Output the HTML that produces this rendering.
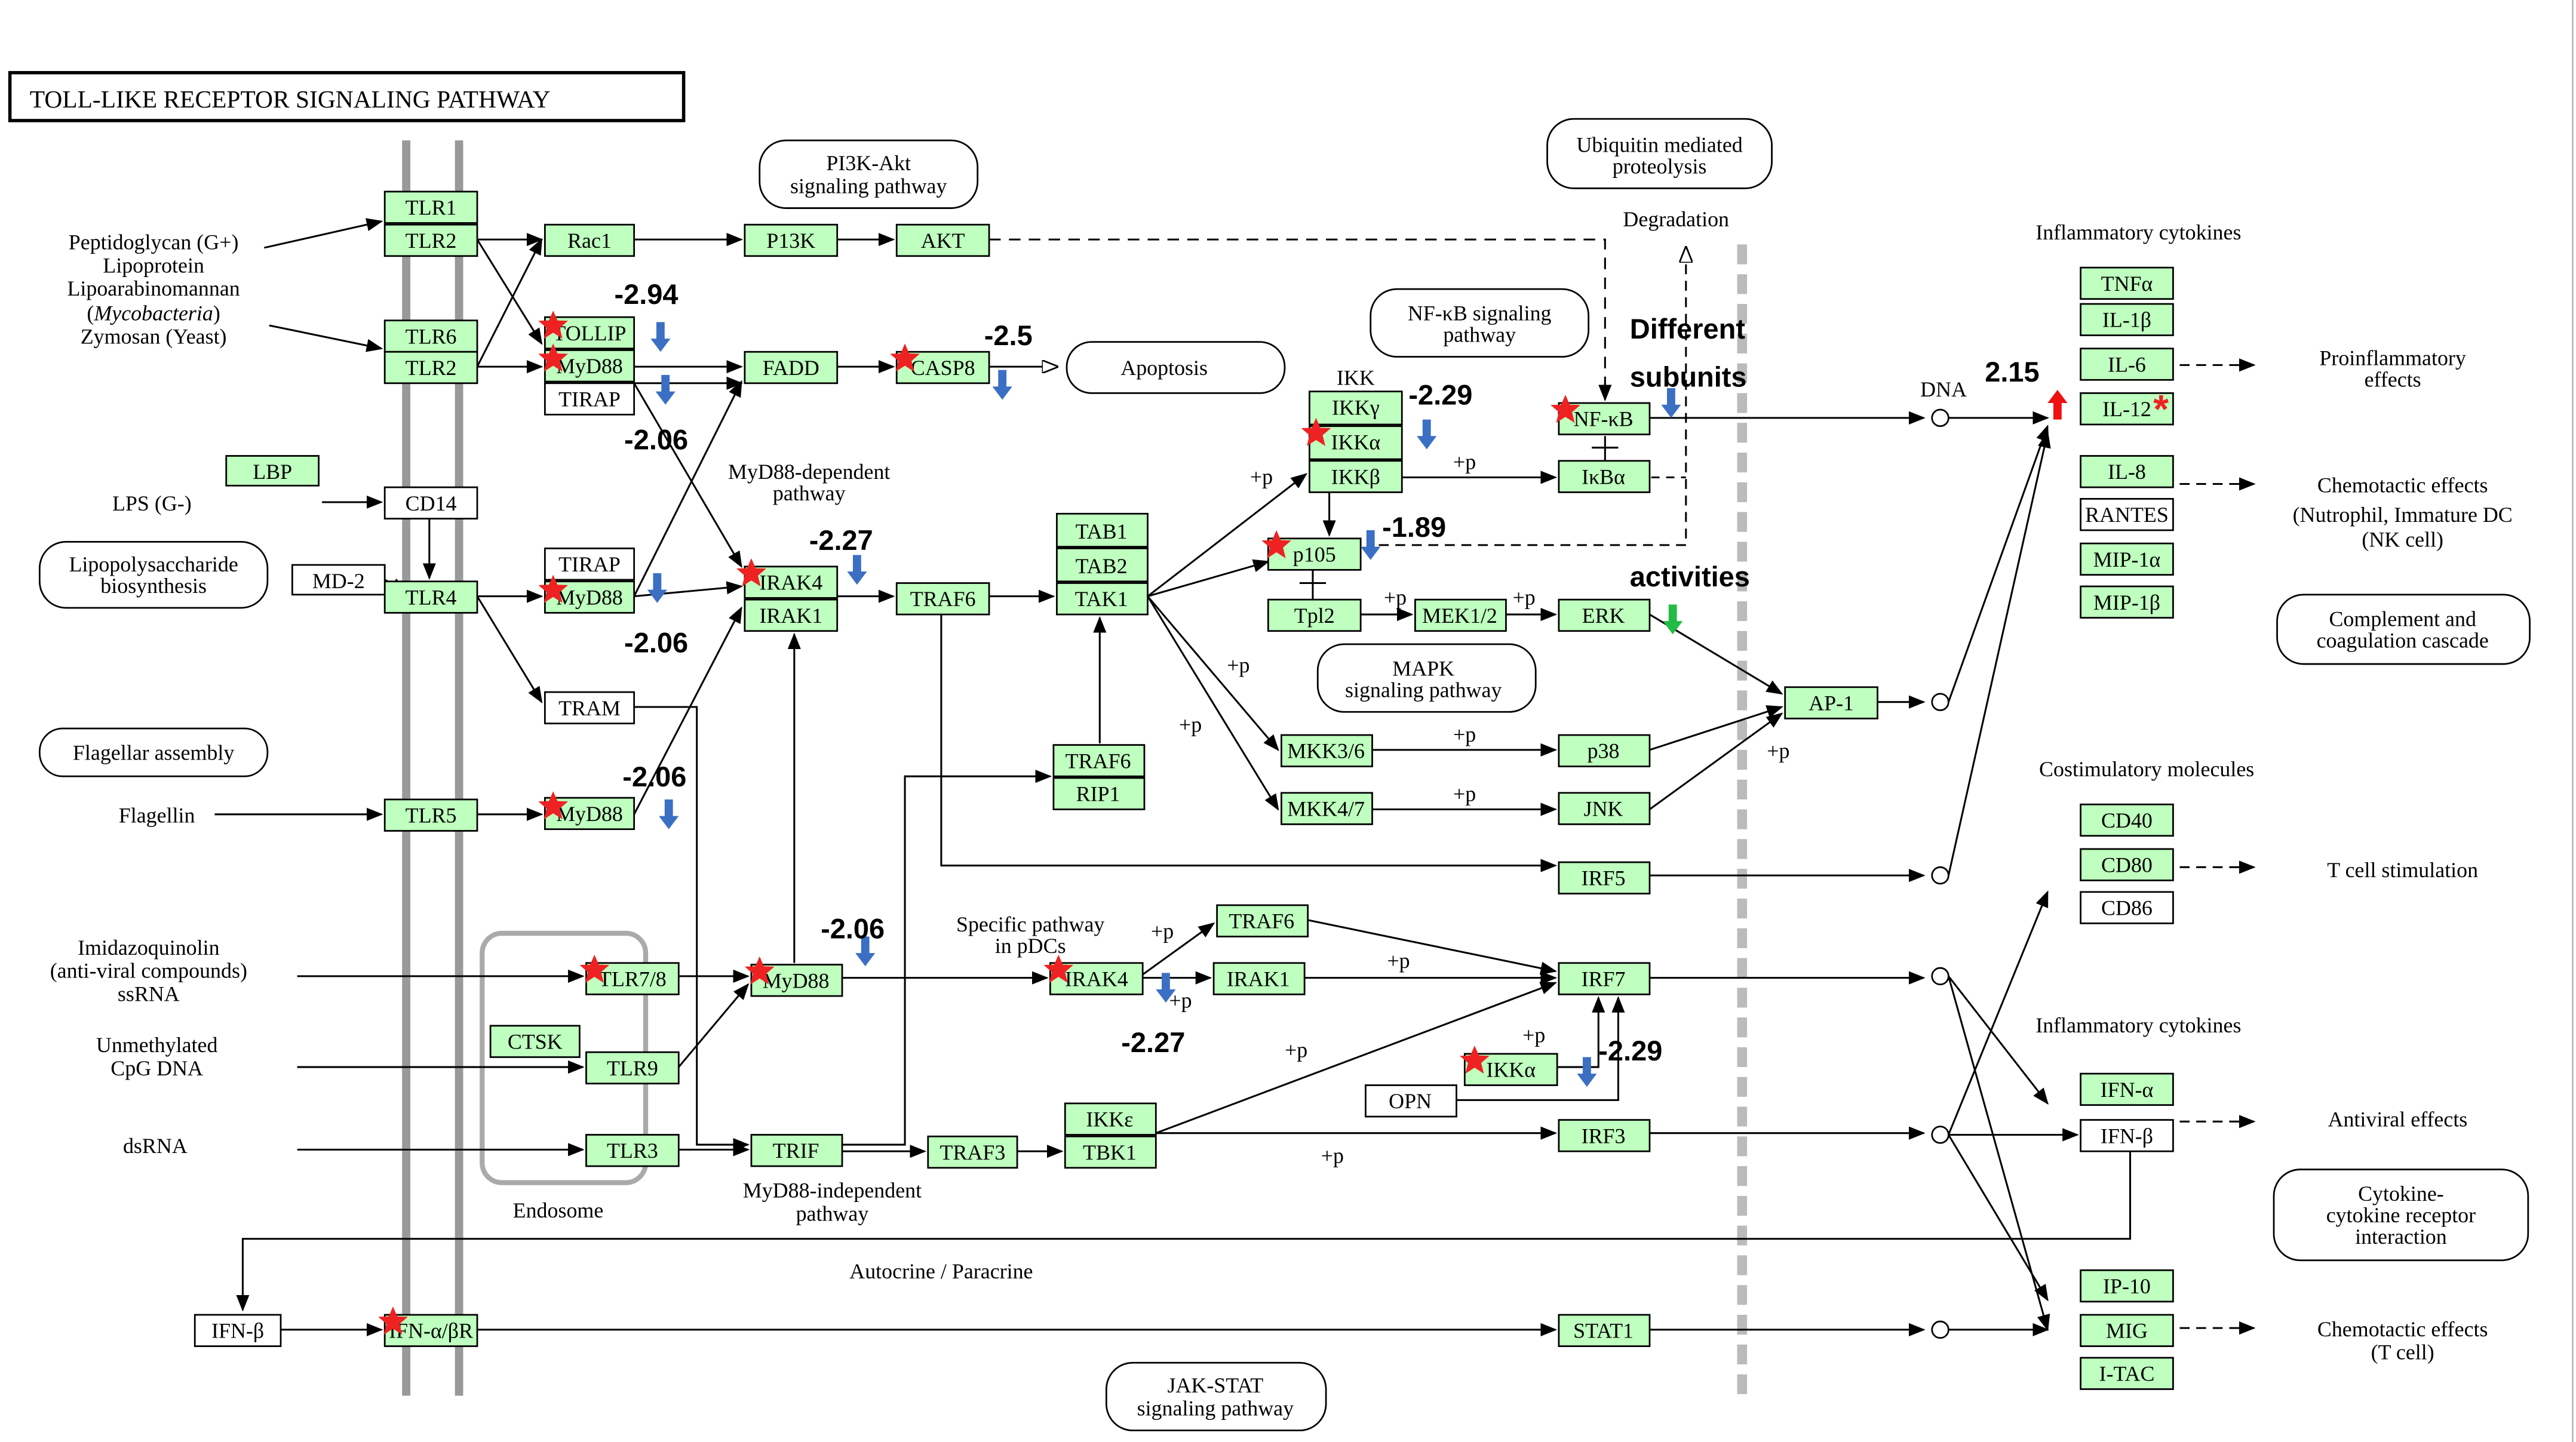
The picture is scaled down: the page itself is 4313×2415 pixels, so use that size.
<!DOCTYPE html>
<html><head><meta charset="utf-8"><style>
html,body{margin:0;padding:0;background:#fff;}
svg{display:block;}
.g{fill:#bfffbf;stroke:#000;stroke-width:1}
.w{fill:#fff;stroke:#000;stroke-width:1}
text{font-family:"Liberation Serif",serif;font-size:13px;fill:#000}
.c{text-anchor:middle}
.n{font-family:"Liberation Sans",sans-serif;font-weight:bold;font-size:17px}
.e{stroke:#000;stroke-width:1.1;fill:none}
.ea{stroke:#000;stroke-width:1.1;fill:none;marker-end:url(#ah)}
.rr{fill:#fff;stroke:#000;stroke-width:1}
</style></head><body>
<svg width="4313" height="2415" viewBox="0 0 1560 873" preserveAspectRatio="none" xmlns="http://www.w3.org/2000/svg">
<defs>
<marker id="ah" markerWidth="10" markerHeight="8" refX="9" refY="4" orient="auto" markerUnits="userSpaceOnUse"><path d="M0,0 L10,4 L0,8 z" fill="#000"/></marker>
<marker id="oh" markerWidth="10" markerHeight="8" refX="9" refY="4" orient="auto" markerUnits="userSpaceOnUse"><path d="M0,0 L10,4 L0,8 z" fill="#fff" stroke="#000"/></marker>
<g id="star"><path d="M0,-9 L2.6,-3 L9,-2.8 L4,1.5 L5.6,8 L0,4.4 L-5.6,8 L-4,1.5 L-9,-2.8 L-2.6,-3 z" fill="#ee2222"/></g>
<g id="bd"><rect x="-2.5" y="-10" width="5" height="11" fill="#3b6fc4"/><path d="M-6,0 L6,0 L0,8 z" fill="#3b6fc4"/></g>
</defs>
<rect width="1560" height="873" fill="#fff"/>
<line x1="1558" y1="0" x2="1558" y2="873" stroke="#bbb" stroke-width="1"/>
<!-- membranes -->
<line x1="246" y1="85" x2="246" y2="845" stroke="#999" stroke-width="5"/>
<line x1="278" y1="85" x2="278" y2="845" stroke="#999" stroke-width="5"/>
<line x1="1055" y1="148" x2="1055" y2="845" stroke="#bbb" stroke-width="6" stroke-dasharray="12,6"/>
<!-- title -->
<rect x="6" y="44" width="408" height="29" fill="#fff" stroke="#000" stroke-width="2"/>
<text x="18" y="65" style="font-size:15px">TOLL-LIKE RECEPTOR SIGNALING PATHWAY</text>
<!-- rounded labels -->
<rect class="rr" x="460" y="85" width="132" height="41" rx="16"/><text class="c" x="526" y="103">PI3K-Akt</text><text class="c" x="526" y="117">signaling pathway</text>
<rect class="rr" x="937" y="72" width="136" height="42" rx="16"/><text class="c" x="1005" y="92">Ubiquitin mediated</text><text class="c" x="1005" y="105">proteolysis</text>
<rect class="rr" x="830" y="175" width="132" height="41" rx="16"/><text class="c" x="896" y="194">NF-κB signaling</text><text class="c" x="896" y="207">pathway</text>
<rect class="rr" x="646" y="207" width="132" height="31" rx="15"/><text class="c" x="705" y="227">Apoptosis</text>
<rect class="rr" x="798" y="390" width="132" height="41" rx="16"/><text class="c" x="862" y="409">MAPK</text><text class="c" x="862" y="422">signaling pathway</text>
<rect class="rr" x="24" y="328" width="138" height="40" rx="16"/><text class="c" x="93" y="346">Lipopolysaccharide</text><text class="c" x="93" y="359">biosynthesis</text>
<rect class="rr" x="24" y="441" width="138" height="29" rx="14"/><text class="c" x="93" y="460">Flagellar assembly</text>
<rect class="rr" x="1379" y="360" width="153" height="42" rx="16"/><text class="c" x="1455" y="379">Complement and</text><text class="c" x="1455" y="392">coagulation cascade</text>
<rect class="rr" x="1377" y="708" width="154" height="55" rx="16"/><text class="c" x="1454" y="727">Cytokine-</text><text class="c" x="1454" y="740">cytokine receptor</text><text class="c" x="1454" y="753">interaction</text>
<rect class="rr" x="670" y="825" width="133" height="41" rx="16"/><text class="c" x="736" y="843">JAK-STAT</text><text class="c" x="736" y="857">signaling pathway</text>
<rect x="292" y="565" width="99" height="151" rx="12" fill="none" stroke="#aaa" stroke-width="3"/>
<text class="c" x="338" y="737">Endosome</text>
<!-- edges -->
<g>
<path class="ea" d="M160,150 L231,134"/>
<path class="ea" d="M163,197 L231,211"/>
<path class="ea" d="M195,304 L231,304"/>
<path class="ea" d="M130,493 L231,493"/>
<path class="ea" d="M260,314 L260,350"/>
<path class="ea" d="M233,351 L246,358"/>
<path class="ea" d="M289,145 L328,145"/>
<path class="ea" d="M289,145 L328,208"/>
<path class="ea" d="M289,222 L328,145"/>
<path class="ea" d="M289,222 L328,222"/>
<path class="ea" d="M384,145 L449,145"/>
<path class="ea" d="M507,145 L541,145"/>
<path class="e" d="M599,145 L972,145 L972,240" stroke-dasharray="7,5"/>
<path class="ea" d="M972,232 L972,242"/>
<path class="ea" d="M384,222 L449,222"/>
<path class="ea" d="M507,222 L541,222"/>
<path class="e" d="M599,222 L640,222" marker-end="url(#oh)"/>
<path class="ea" d="M384,232 L449,343"/>
<path class="ea" d="M384,232 L449,232"/>
<path class="ea" d="M289,361 L328,361"/>
<path class="ea" d="M289,361 L328,425"/>
<path class="ea" d="M384,361 L449,231"/>
<path class="ea" d="M384,361 L449,355"/>
<path class="ea" d="M384,493 L449,368"/>
<path class="ea" d="M289,493 L328,493"/>
<path class="ea" d="M507,361 L541,361"/>
<path class="ea" d="M599,361 L638,361"/>
<path class="ea" d="M666,450 L666,374"/>
<path class="ea" d="M481,583 L481,384"/>
<path class="ea" d="M695,361 L791,287"/>
<path class="ea" d="M695,361 L774,454"/>
<path class="ea" d="M695,361 L774,490"/>
<path class="ea" d="M695,361 L768,340"/>
<path class="ea" d="M849,289 L942,289"/>
<path class="ea" d="M805,298 L805,324"/>
<path class="e" d="M1021,160 L1021,330 L830,330" stroke-dasharray="6,4"/>
<path class="e" d="M1021,155 L1021,150" marker-end="url(#oh)"/>
<path class="e" d="M1000,289 L1021,289" stroke-dasharray="5,4"/>
<line x1="972" y1="264" x2="972" y2="279" class="e"/><line x1="964" y1="271" x2="980" y2="271" class="e"/>
<line x1="795" y1="345" x2="795" y2="363" class="e"/><line x1="787" y1="353" x2="803" y2="353" class="e"/>
<path class="ea" d="M824,372 L855,372"/>
<path class="ea" d="M912,372 L942,372"/>
<path class="ea" d="M999,253 L1165,253"/>
<circle cx="1175" cy="253" r="5" fill="#fff" stroke="#000"/>
<path class="ea" d="M1180,253 L1240,253"/>
<path class="ea" d="M999,372 L1079,420"/>
<path class="ea" d="M999,454 L1079,428"/>
<path class="ea" d="M999,490 L1079,432"/>
<path class="ea" d="M831,454 L942,454"/>
<path class="ea" d="M831,490 L942,490"/>
<path class="ea" d="M1137,425 L1165,425"/>
<circle cx="1175" cy="425" r="5" fill="#fff" stroke="#000"/>
<path class="ea" d="M1180,425 L1240,258"/>
<path class="ea" d="M570,372 L570,524 L942,524"/>
<path class="ea" d="M999,530 L1165,530"/>
<circle cx="1175" cy="530" r="5" fill="#fff" stroke="#000"/>
<path class="ea" d="M1180,530 L1240,262"/>
<path class="ea" d="M384,428 L422,428 L422,693 L453,693"/>
<path class="ea" d="M510,693 L548,693 L548,470 L636,470"/>
<path class="ea" d="M510,697 L560,697"/>
<path class="ea" d="M616,697 L643,697"/>
<path class="ea" d="M700,686 L942,595"/>
<path class="ea" d="M700,686 L942,686"/>
<path class="ea" d="M999,686 L1165,686"/>
<circle cx="1175" cy="687" r="5" fill="#fff" stroke="#000"/>
<path class="ea" d="M180,591 L353,591"/>
<path class="ea" d="M180,646 L353,646"/>
<path class="ea" d="M180,696 L353,696"/>
<path class="ea" d="M411,591 L453,591"/>
<path class="ea" d="M411,646 L453,596"/>
<path class="ea" d="M411,696 L453,696"/>
<path class="ea" d="M510,592 L634,592"/>
<path class="ea" d="M692,592 L733,592"/>
<path class="ea" d="M692,590 L735,559"/>
<path class="ea" d="M790,592 L942,592"/>
<path class="ea" d="M792,557 L942,588"/>
<path class="ea" d="M999,592 L1165,592"/>
<circle cx="1175" cy="591" r="5" fill="#fff" stroke="#000"/>
<path class="ea" d="M943,646 L968,646 L968,604"/>
<path class="ea" d="M882,666 L980,666 L980,604"/>
<path class="ea" d="M289,805 L942,805"/>
<path class="ea" d="M999,805 L1165,805"/>
<circle cx="1175" cy="805" r="5" fill="#fff" stroke="#000"/>
<path class="ea" d="M170,805 L231,805"/>
<path class="ea" d="M1290,697 L1290,750 L147,750 L147,793"/>
<path class="ea" d="M1180,687 L1240,540"/>
<path class="ea" d="M1180,591 L1240,668"/>
<path class="ea" d="M1180,687 L1258,687"/>
<path class="ea" d="M1180,687 L1240,787"/>
<path class="ea" d="M1180,805 L1240,805"/>
<path class="ea" d="M1180,591 L1240,805"/>
<path class="e" d="M1320,221 L1365,221" stroke-dasharray="6,4" marker-end="url(#ah)"/>
<path class="e" d="M1320,293 L1365,293" stroke-dasharray="6,4" marker-end="url(#ah)"/>
<path class="e" d="M1320,525 L1365,525" stroke-dasharray="6,4" marker-end="url(#ah)"/>
<path class="e" d="M1320,679 L1365,679" stroke-dasharray="6,4" marker-end="url(#ah)"/>
<path class="e" d="M1320,804 L1365,804" stroke-dasharray="6,4" marker-end="url(#ah)"/>
</g>
<!-- nodes -->
<g>
<rect class="g" x="233" y="116" width="56" height="19"/><text class="c" x="261" y="130">TLR1</text>
<rect class="g" x="233" y="136" width="56" height="19"/><text class="c" x="261" y="150">TLR2</text>
<rect class="g" x="233" y="194" width="56" height="19"/><text class="c" x="261" y="208">TLR6</text>
<rect class="g" x="233" y="213" width="56" height="19"/><text class="c" x="261" y="227">TLR2</text>
<rect class="w" x="233" y="295" width="56" height="19"/><text class="c" x="261" y="309">CD14</text>
<rect class="g" x="233" y="352" width="56" height="19"/><text class="c" x="261" y="366">TLR4</text>
<rect class="g" x="233" y="484" width="56" height="19"/><text class="c" x="261" y="498">TLR5</text>
<rect class="g" x="233" y="796" width="56" height="19"/><text class="c" x="261" y="810">IFN-α/βR</text>
<rect class="g" x="137" y="276" width="56" height="18"/><text class="c" x="165" y="290">LBP</text>
<rect class="w" x="177" y="342" width="56" height="18"/><text class="c" x="205" y="356">MD-2</text>
<rect class="w" x="118" y="796" width="52" height="19"/><text class="c" x="144" y="810">IFN-β</text>
<rect class="g" x="330" y="136" width="54" height="19"/><text class="c" x="357" y="150">Rac1</text>
<rect class="g" x="451" y="136" width="56" height="19"/><text class="c" x="479" y="150">P13K</text>
<rect class="g" x="543" y="136" width="56" height="19"/><text class="c" x="571" y="150">AKT</text>
<rect class="g" x="330" y="192" width="54" height="19"/><text class="c" x="357" y="206">TOLLIP</text>
<rect class="g" x="330" y="212" width="54" height="19"/><text class="c" x="357" y="226">MyD88</text>
<rect class="w" x="330" y="232" width="54" height="19"/><text class="c" x="357" y="246">TIRAP</text>
<rect class="g" x="451" y="213" width="56" height="19"/><text class="c" x="479" y="227">FADD</text>
<rect class="g" x="543" y="213" width="56" height="19"/><text class="c" x="571" y="227">CASP8</text>
<rect class="w" x="330" y="332" width="54" height="19"/><text class="c" x="357" y="346">TIRAP</text>
<rect class="g" x="330" y="352" width="54" height="19"/><text class="c" x="357" y="366">MyD88</text>
<rect class="g" x="451" y="343" width="56" height="19"/><text class="c" x="479" y="357">IRAK4</text>
<rect class="g" x="451" y="363" width="56" height="19"/><text class="c" x="479" y="377">IRAK1</text>
<rect class="w" x="330" y="419" width="54" height="19"/><text class="c" x="357" y="433">TRAM</text>
<rect class="g" x="330" y="483" width="54" height="19"/><text class="c" x="357" y="497">MyD88</text>
<rect class="g" x="543" y="353" width="56" height="19"/><text class="c" x="571" y="367">TRAF6</text>
<rect class="g" x="640" y="311" width="55" height="20"/><text class="c" x="667" y="326">TAB1</text>
<rect class="g" x="640" y="332" width="55" height="20"/><text class="c" x="667" y="347">TAB2</text>
<rect class="g" x="640" y="353" width="55" height="19"/><text class="c" x="667" y="367">TAK1</text>
<rect class="g" x="638" y="451" width="55" height="19"/><text class="c" x="665" y="465">TRAF6</text>
<rect class="g" x="638" y="471" width="55" height="19"/><text class="c" x="665" y="485">RIP1</text>
<rect class="g" x="793" y="237" width="56" height="20"/><text class="c" x="821" y="251">IKKγ</text>
<rect class="g" x="793" y="258" width="56" height="20"/><text class="c" x="821" y="272">IKKα</text>
<rect class="g" x="793" y="279" width="56" height="19"/><text class="c" x="821" y="293">IKKβ</text>
<text class="c" x="821" y="233">IKK</text>
<rect class="g" x="944" y="244" width="55" height="19"/><text class="c" x="971" y="258">NF-κB</text>
<rect class="g" x="944" y="279" width="55" height="19"/><text class="c" x="971" y="293">IκBα</text>
<rect class="g" x="768" y="326" width="56" height="19"/><text class="c" x="796" y="340">p105</text>
<rect class="g" x="768" y="363" width="56" height="19"/><text class="c" x="796" y="377">Tpl2</text>
<rect class="g" x="857" y="363" width="55" height="19"/><text class="c" x="884" y="377">MEK1/2</text>
<rect class="g" x="944" y="363" width="55" height="19"/><text class="c" x="971" y="377">ERK</text>
<rect class="g" x="776" y="445" width="55" height="19"/><text class="c" x="803" y="459">MKK3/6</text>
<rect class="g" x="776" y="480" width="55" height="19"/><text class="c" x="803" y="494">MKK4/7</text>
<rect class="g" x="944" y="445" width="55" height="19"/><text class="c" x="971" y="459">p38</text>
<rect class="g" x="944" y="480" width="55" height="19"/><text class="c" x="971" y="494">JNK</text>
<rect class="g" x="1081" y="416" width="56" height="19"/><text class="c" x="1109" y="430">AP-1</text>
<rect class="g" x="944" y="522" width="55" height="19"/><text class="c" x="971" y="536">IRF5</text>
<rect class="g" x="737" y="548" width="55" height="19"/><text class="c" x="764" y="562">TRAF6</text>
<rect class="g" x="944" y="583" width="55" height="19"/><text class="c" x="971" y="597">IRF7</text>
<rect class="g" x="735" y="583" width="55" height="19"/><text class="c" x="762" y="597">IRAK1</text>
<rect class="g" x="636" y="583" width="56" height="19"/><text class="c" x="664" y="597">IRAK4</text>
<rect class="g" x="455" y="584" width="55" height="19"/><text class="c" x="482" y="598">MyD88</text>
<rect class="g" x="355" y="583" width="56" height="19"/><text class="c" x="383" y="597">TLR7/8</text>
<rect class="g" x="297" y="621" width="54" height="19"/><text class="c" x="324" y="635">CTSK</text>
<rect class="g" x="355" y="637" width="56" height="19"/><text class="c" x="383" y="651">TLR9</text>
<rect class="g" x="355" y="687" width="56" height="19"/><text class="c" x="383" y="701">TLR3</text>
<rect class="g" x="455" y="687" width="55" height="19"/><text class="c" x="482" y="701">TRIF</text>
<rect class="g" x="562" y="688" width="54" height="19"/><text class="c" x="589" y="702">TRAF3</text>
<rect class="g" x="645" y="668" width="55" height="19"/><text class="c" x="672" y="682">IKKε</text>
<rect class="g" x="645" y="688" width="55" height="19"/><text class="c" x="672" y="702">TBK1</text>
<rect class="g" x="887" y="638" width="56" height="19"/><text class="c" x="915" y="652">IKKα</text>
<rect class="w" x="827" y="657" width="55" height="19"/><text class="c" x="854" y="671">OPN</text>
<rect class="g" x="944" y="678" width="55" height="19"/><text class="c" x="971" y="692">IRF3</text>
<rect class="g" x="944" y="796" width="55" height="19"/><text class="c" x="971" y="810">STAT1</text>
<rect class="g" x="1260" y="162" width="56" height="19"/><text class="c" x="1288" y="176">TNFα</text>
<rect class="g" x="1260" y="184" width="56" height="19"/><text class="c" x="1288" y="198">IL-1β</text>
<rect class="g" x="1260" y="211" width="56" height="19"/><text class="c" x="1288" y="225">IL-6</text>
<rect class="g" x="1260" y="238" width="56" height="19"/><text class="c" x="1288" y="252">IL-12</text>
<rect class="g" x="1260" y="276" width="56" height="19"/><text class="c" x="1288" y="290">IL-8</text>
<rect class="w" x="1260" y="302" width="56" height="19"/><text class="c" x="1288" y="316">RANTES</text>
<rect class="g" x="1260" y="329" width="56" height="19"/><text class="c" x="1288" y="343">MIP-1α</text>
<rect class="g" x="1260" y="355" width="56" height="19"/><text class="c" x="1288" y="369">MIP-1β</text>
<rect class="g" x="1260" y="487" width="56" height="19"/><text class="c" x="1288" y="501">CD40</text>
<rect class="g" x="1260" y="514" width="56" height="19"/><text class="c" x="1288" y="528">CD80</text>
<rect class="w" x="1260" y="540" width="56" height="19"/><text class="c" x="1288" y="554">CD86</text>
<rect class="g" x="1260" y="650" width="56" height="19"/><text class="c" x="1288" y="664">IFN-α</text>
<rect class="w" x="1260" y="678" width="56" height="19"/><text class="c" x="1288" y="692">IFN-β</text>
<rect class="g" x="1260" y="769" width="56" height="19"/><text class="c" x="1288" y="783">IP-10</text>
<rect class="g" x="1260" y="796" width="56" height="19"/><text class="c" x="1288" y="810">MIG</text>
<rect class="g" x="1260" y="822" width="56" height="19"/><text class="c" x="1288" y="836">I-TAC</text>
</g>
<!-- text labels -->
<g>
<text class="c" x="93" y="151">Peptidoglycan (G+)</text>
<text class="c" x="93" y="165">Lipoprotein</text>
<text class="c" x="93" y="179">Lipoarabinomannan</text>
<text class="c" x="93" y="194">(<tspan font-style="italic">Mycobacteria</tspan>)</text>
<text class="c" x="93" y="208">Zymosan (Yeast)</text>
<text class="c" x="92" y="309">LPS (G-)</text>
<text class="c" x="95" y="498">Flagellin</text>
<text class="c" x="90" y="578">Imidazoquinolin</text>
<text class="c" x="90" y="592">(anti-viral compounds)</text>
<text class="c" x="90" y="606">ssRNA</text>
<text class="c" x="95" y="637">Unmethylated</text>
<text class="c" x="95" y="651">CpG DNA</text>
<text class="c" x="94" y="698">dsRNA</text>
<text class="c" x="490" y="290">MyD88-dependent</text>
<text class="c" x="490" y="303">pathway</text>
<text class="c" x="504" y="725">MyD88-independent</text>
<text class="c" x="504" y="739">pathway</text>
<text class="c" x="570" y="774">Autocrine / Paracrine</text>
<text class="c" x="624" y="564">Specific pathway</text>
<text class="c" x="624" y="577">in pDCs</text>
<text class="c" x="1015" y="137">Degradation</text>
<text class="c" x="1177" y="240">DNA</text>
<text class="c" x="1295" y="145">Inflammatory cytokines</text>
<text class="c" x="1449" y="221">Proinflammatory</text>
<text class="c" x="1449" y="234">effects</text>
<text class="c" x="1455" y="298">Chemotactic effects</text>
<text class="c" x="1455" y="316">(Nutrophil, Immature DC</text>
<text class="c" x="1455" y="331">(NK cell)</text>
<text class="c" x="1300" y="470">Costimulatory molecules</text>
<text class="c" x="1455" y="531">T cell stimulation</text>
<text class="c" x="1295" y="625">Inflammatory cytokines</text>
<text class="c" x="1452" y="682">Antiviral effects</text>
<text class="c" x="1455" y="809">Chemotactic effects</text>
<text class="c" x="1455" y="823">(T cell)</text>
<text x="757" y="293">+p</text><text x="880" y="284">+p</text><text x="838" y="366">+p</text><text x="916" y="366">+p</text>
<text x="743" y="407">+p</text><text x="714" y="443">+p</text><text x="880" y="449">+p</text><text x="880" y="485">+p</text>
<text x="1070" y="459">+p</text><text x="697" y="568">+p</text><text x="840" y="586">+p</text><text x="708" y="610">+p</text>
<text x="778" y="640">+p</text><text x="922" y="631">+p</text><text x="800" y="704">+p</text>
</g>
<!-- stars -->
<use href="#star" x="335" y="197"/><use href="#star" x="335" y="217"/><use href="#star" x="548" y="217"/>
<use href="#star" x="335" y="357"/><use href="#star" x="455" y="347"/><use href="#star" x="335" y="488"/>
<use href="#star" x="797" y="262"/><use href="#star" x="948" y="248"/><use href="#star" x="773" y="330"/>
<use href="#star" x="360" y="587"/><use href="#star" x="460" y="588"/><use href="#star" x="641" y="587"/>
<use href="#star" x="893" y="642"/><use href="#star" x="238" y="800"/>
<text x="1304" y="256" style="font-family:'Liberation Sans',sans-serif;font-size:24px;font-weight:bold;fill:#ee2222">*</text>
<!-- blue arrows -->
<use href="#bd" x="400" y="205"/><use href="#bd" x="403" y="237"/><use href="#bd" x="607" y="234"/>
<use href="#bd" x="398" y="357"/><use href="#bd" x="519" y="346"/><use href="#bd" x="405" y="494"/>
<use href="#bd" x="864" y="264"/><use href="#bd" x="830" y="331"/><use href="#bd" x="1012" y="245"/>
<use href="#bd" x="524" y="577"/><use href="#bd" x="706" y="599"/><use href="#bd" x="961" y="650"/>
<g transform="translate(1013,376)"><rect x="-2.5" y="-10" width="5" height="11" fill="#22bb44"/><path d="M-6,0 L6,0 L0,8 z" fill="#22bb44"/></g>
<g transform="translate(1246,245)"><rect x="-2.5" y="-2" width="5" height="11" fill="#ee1111"/><path d="M-6,-1 L6,-1 L0,-9 z" fill="#ee1111"/></g>
<!-- numbers -->
<text class="n" x="372" y="184">-2.94</text>
<text class="n" x="378" y="272">-2.06</text>
<text class="n" x="596" y="209">-2.5</text>
<text class="n" x="490" y="333">-2.27</text>
<text class="n" x="378" y="395">-2.06</text>
<text class="n" x="377" y="476">-2.06</text>
<text class="n" x="853" y="245">-2.29</text>
<text class="n" x="837" y="325">-1.89</text>
<text class="n" x="987" y="205">Different</text>
<text class="n" x="987" y="234">subunits</text>
<text class="n" x="987" y="355">activities</text>
<text class="n" x="1202" y="231">2.15</text>
<text class="n" x="497" y="568">-2.06</text>
<text class="n" x="679" y="637">-2.27</text>
<text class="n" x="968" y="642">-2.29</text>
</svg>
</body></html>
